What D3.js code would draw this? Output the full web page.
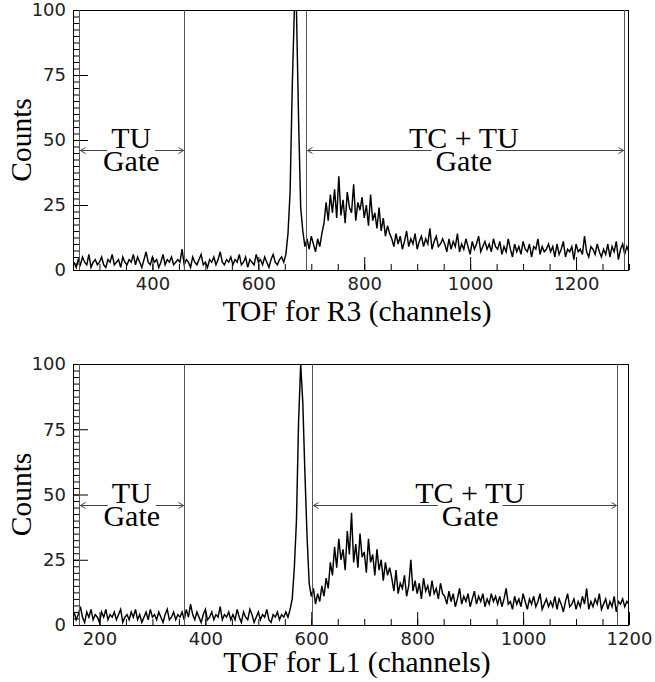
<!DOCTYPE html>
<html>
<head>
<meta charset="utf-8">
<script src="https://cdn.jsdelivr.net/npm/d3@7"></script>
<style>
  html, body { margin: 0; padding: 0; background: #fff; }
  svg { display: block; }
</style>
</head>
<body>
<svg id="tof" width="655" height="682"></svg>
<script>
// counts per 4-channel bin
const binWidth = 4;

const r3FirstChannel = 250;
const r3Counts = [
  3,1,4,2,5,3,2,6,1,3,4,2,3,5,2,1,4,3,6,2,3,4,1,5,3,
  2,4,3,6,2,5,3,1,4,7,3,2,5,3,4,1,3,6,2,4,3,5,2,3,4,
  3,8,2,4,3,1,5,3,2,4,6,2,3,1,4,3,5,2,4,7,3,2,4,3,5,
  2,4,3,6,2,3,5,1,4,3,2,6,3,4,2,5,3,1,4,6,3,2,4,5,3,
  6,14,30,70,100,100,58,24,15,9,12,8,13,10,7,12,9,14,18,26,19,29,22,31,20,
  36,21,27,18,30,24,22,33,19,26,23,28,20,25,17,29,19,22,16,24,15,20,13,17,14,
  12,9,14,10,13,8,11,15,9,12,10,14,8,11,13,9,12,10,16,8,11,13,9,10,12,
  10,7,12,8,11,9,14,7,10,8,12,9,6,11,8,10,13,7,9,11,8,10,7,12,9,
  8,11,6,9,7,12,8,5,10,7,9,6,11,8,7,10,5,9,8,12,6,9,7,8,10,
  7,9,5,10,6,8,11,5,8,7,9,4,10,7,8,6,13,7,5,9,8,6,10,7,5,
  8,6,10,5,9,7,11,4,8,10,6,9,7
];

const l1FirstChannel = 150;
const l1Counts = [
  5,2,4,7,3,1,5,3,6,2,4,3,1,5,3,6,2,4,3,5,2,4,6,1,3,
  4,2,5,3,6,2,4,1,3,5,2,6,3,4,2,5,3,1,4,6,2,3,5,2,4,
  3,5,2,6,3,8,4,2,5,3,1,4,6,2,3,5,2,4,3,7,2,4,3,5,2,
  4,2,6,3,1,5,3,2,6,4,1,3,5,2,4,3,6,2,1,4,3,5,2,4,3,
  5,3,6,10,22,40,78,100,85,58,34,16,11,14,8,12,9,15,11,18,14,24,19,30,22,
  33,25,29,21,36,27,43,24,31,22,35,26,28,20,33,24,27,19,29,21,25,17,24,19,22,
  18,13,21,12,16,14,19,11,15,25,13,17,12,16,10,18,13,15,11,17,12,14,10,16,12,
  11,8,13,9,12,7,10,14,8,11,9,12,7,10,13,8,11,9,12,7,10,8,12,9,11,
  8,11,7,10,14,8,9,6,11,8,10,7,12,9,6,10,8,11,7,9,12,6,8,10,7,
  9,7,11,6,10,8,5,9,12,7,8,10,6,9,7,11,8,14,6,9,7,10,8,12,6,
  8,10,6,9,7,11,5,9,8,10,7,9,8
];

const r3Domain = [250, 1300];
const l1Domain = [150, 1200];
const countDomain = [0, 100];

const countTicks = [0, 25, 50, 75, 100];
const r3Ticks = [400, 600, 800, 1000, 1200];
const l1Ticks = [200, 400, 600, 800, 1000, 1200];

// gate edges (channels) and where the gate captions sit
const r3Gates = [[261, 460], [690, 1290]];
const l1Gates = [[161, 360], [601, 1177]];
const r3CaptionAt = [360, 988];
const l1CaptionAt = [261, 900];
const gateArrowCount = 46;
const gateCaptions = [["TU", "Gate"], ["TC + TU", "Gate"]];

const r3Title = "TOF for R3 (channels)";
const l1Title = "TOF for L1 (channels)";
const countsTitle = "Counts";

const svg = d3.select("#tof");
const serif = "'Liberation Serif', 'Times New Roman', serif";
const sans = "'DejaVu Sans', sans-serif";

const left = 73, right = 629;

drawPanel({
  top: 10, bottom: 270, domain: r3Domain, first: r3FirstChannel, counts: r3Counts,
  ticks: r3Ticks, gates: r3Gates, captionAt: r3CaptionAt, title: r3Title,
  titleY: 321, captionY: 148, id: "r3"
});

drawPanel({
  top: 364, bottom: 625, domain: l1Domain, first: l1FirstChannel, counts: l1Counts,
  ticks: l1Ticks, gates: l1Gates, captionAt: l1CaptionAt, title: l1Title,
  titleY: 672, captionY: 503, id: "l1"
});

function drawPanel(p) {
  const x = d3.scaleLinear().domain(p.domain).range([left, right]);
  const y = d3.scaleLinear().domain(countDomain).range([p.bottom, p.top]);

  const g = svg.append("g");

  g.append("clipPath").attr("id", "clip-" + p.id)
    .append("rect")
    .attr("x", left).attr("y", p.top)
    .attr("width", right - left).attr("height", p.bottom - p.top);

  // spectrum drawn through the bin centres, like the original polyline
  const pts = p.counts.map((c, i) => [p.first + (i + 0.5) * binWidth, c]);

  const line = d3.line()
    .x(d => x(d[0]))
    .y(d => y(d[1]));

  g.append("path")
    .datum(pts)
    .attr("clip-path", `url(#clip-${p.id})`)
    .attr("fill", "none")
    .attr("stroke", "#000")
    .attr("stroke-width", 1.45)
    .attr("stroke-linejoin", "miter")
    .attr("d", line);

  // minor ticks
  const minorX = d3.range(Math.ceil(p.domain[0] / 50) * 50, p.domain[1] + 1, 50);
  g.append("g")
    .attr("transform", `translate(0,${p.bottom})`)
    .call(d3.axisBottom(x).tickValues(minorX).tickSize(-6).tickFormat(""))
    .call(a => a.select(".domain").remove());

  g.append("g")
    .attr("transform", `translate(0,${p.bottom})`)
    .call(d3.axisBottom(x).tickValues(p.ticks).tickSize(-13).tickPadding(7)
      .tickFormat(d3.format("d")))
    .call(a => a.select(".domain").remove())
    .call(a => a.selectAll("text")
      .attr("font-family", sans).attr("font-size", 18).attr("fill", "#222"));

  const minorY = d3.range(0, 100.01, 2.5);
  g.append("g")
    .attr("transform", `translate(${left},0)`)
    .call(d3.axisLeft(y).tickValues(minorY).tickSize(-7).tickFormat(""))
    .call(a => a.select(".domain").remove());

  g.append("g")
    .attr("transform", `translate(${left},0)`)
    .call(d3.axisLeft(y).tickValues(countTicks).tickSize(-15).tickPadding(7))
    .call(a => a.select(".domain").remove())
    .call(a => a.selectAll("text")
      .attr("font-family", sans).attr("font-size", 18).attr("fill", "#222"));

  // frame
  g.append("rect")
    .attr("x", left + 0.5).attr("y", p.top + 0.5)
    .attr("width", right - left - 1).attr("height", p.bottom - p.top)
    .attr("fill", "none").attr("stroke", "#000");

  // gates
  const ay = Math.round(y(gateArrowCount)) + 0.5;
  p.gates.forEach((gate, k) => {
    const x0 = Math.round(x(gate[0])) + 0.5;
    const x1 = Math.round(x(gate[1])) + 0.5;

    g.selectAll(null)
      .data([x0, x1])
      .join("line")
      .attr("x1", d => d).attr("x2", d => d)
      .attr("y1", p.top).attr("y2", p.bottom)
      .attr("stroke", "#555").attr("stroke-width", 1);

    const cx = x(p.captionAt[k]);
    const caption = g.append("text")
      .attr("y", p.captionY)
      .attr("text-anchor", "middle")
      .attr("font-family", serif)
      .attr("font-size", 30)
      .attr("fill", "#000");

    const spans = caption.selectAll("tspan")
      .data(gateCaptions[k])
      .join("tspan")
      .attr("x", cx)
      .attr("dy", (d, i) => i === 0 ? 0 : 23)
      .text(d => d);

    const widths = spans.nodes().map(n => n.getComputedTextLength());
    const gap = Math.min(...widths) + 8;

    g.selectAll(null)
      .data([[x0 + 1, cx - gap / 2], [cx + gap / 2, x1 - 1]])
      .join("line")
      .attr("x1", d => d[0]).attr("x2", d => d[1])
      .attr("y1", ay).attr("y2", ay)
      .attr("stroke", "#444").attr("stroke-width", 1);

    g.append("path")
      .attr("d", `M${x0 + 6},${ay - 3}L${x0 + 1},${ay}L${x0 + 6},${ay + 3}` +
                 `M${x1 - 6},${ay - 3}L${x1 - 1},${ay}L${x1 - 6},${ay + 3}`)
      .attr("fill", "none").attr("stroke", "#444").attr("stroke-width", 1);
  });

  // axis titles
  g.append("text")
    .attr("x", (left + right) / 2 + 6)
    .attr("y", p.titleY)
    .attr("text-anchor", "middle")
    .attr("font-family", serif)
    .attr("font-size", 29.5)
    .text(p.title);

  g.append("text")
    .attr("transform", `translate(31,${(p.top + p.bottom) / 2}) rotate(-90)`)
    .attr("text-anchor", "middle")
    .attr("font-family", serif)
    .attr("font-size", 29.5)
    .text(countsTitle);
}
</script>
</body>
</html>
